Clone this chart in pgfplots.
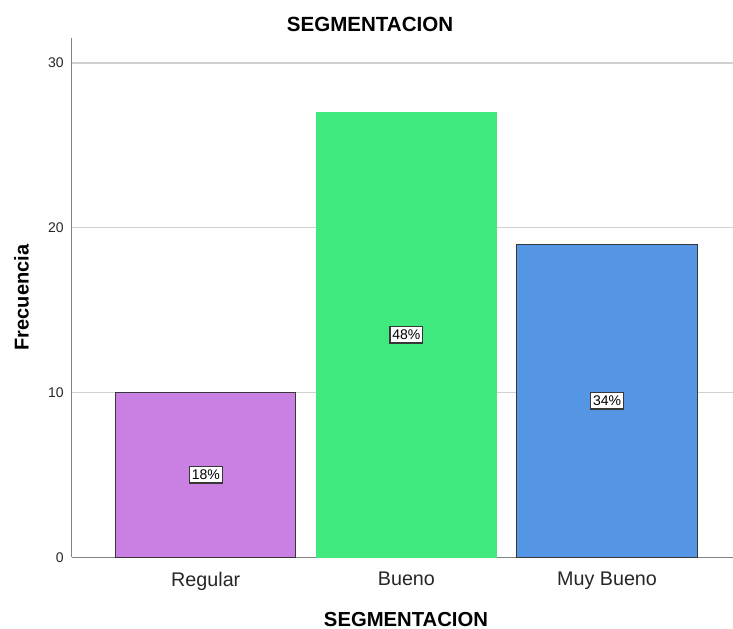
\documentclass[border=0pt]{standalone}
\usepackage{pgfplots}
\usepackage{pgfplotstable}
\pgfplotsset{compat=1.18}
\usepackage{fontspec}
\setmainfont{Liberation Sans}

\definecolor{cRegular}{RGB}{202,128,227}
\definecolor{cBueno}{RGB}{64,233,125}
\definecolor{cMuyBueno}{RGB}{84,149,228}
\definecolor{edgegray}{RGB}{55,55,55}
\definecolor{axisgray}{RGB}{130,130,130}
\definecolor{gridgray}{RGB}{208,208,208}

% frequencies per category
\pgfplotstableread{
x n
0 10
1 27
2 19
}\segdata

\begin{document}
\begin{tikzpicture}
\path[use as bounding box] (0,0) rectangle (549.75pt,471.75pt);
\begin{axis}[
  at={(53.8pt,53.8pt)}, anchor=south west,
  scale only axis, width=496pt, height=389.25pt,
  xmin=-0.668, xmax=2.628, ymin=0, ymax=31.5,
  axis x line*=bottom, axis y line*=left,
  axis line style={color=axisgray, line width=0.8pt},
  major tick length=0pt,
  xtick={0,1,2}, xticklabels={Regular,Bueno,Muy Bueno},
  ytick={0,10,20,30},
  ymajorgrids, grid style={color=gridgray, line width=1.1pt},
  /pgf/number format/assume math mode=true,
  yticklabel style={font=\fontsize{10.5}{12}\selectfont, xshift=-2.5pt, text=black!85},
  xticklabel style={font=\fontsize{14.8}{17}\selectfont, yshift=-7.5pt, text=black!85},
]
\addplot[ybar, bar width=0.898, bar shift=0pt, fill=cRegular, draw=edgegray, line width=0.75pt] coordinates {(0,10)};
\addplot[ybar, bar width=0.898, bar shift=0pt, fill=cBueno, draw=cBueno, line width=0.75pt] coordinates {(1,27)};
\addplot[ybar, bar width=0.898, bar shift=0pt, fill=cMuyBueno, draw=edgegray, line width=0.75pt] coordinates {(2,19)};
% percentage boxes at half bar height
\addplot[draw=none, mark=none,
  point meta={\thisrow{n}/56*100},
  nodes near coords={\pgfmathprintnumber[fixed,precision=0]{\pgfplotspointmeta}\%},
  every node near coord/.append style={anchor=center, fill=white, draw=edgegray,
    line width=1pt, inner xsep=1.8pt, inner ysep=2.4pt,
    font=\fontsize{10.5}{12}\selectfont},
] table[x=x, y expr=\thisrow{n}/2] {\segdata};
\end{axis}
\node[font=\bfseries\fontsize{15.4}{18}\selectfont] at (277.5pt,453.2pt) {SEGMENTACION};
\node[font=\bfseries\fontsize{15.2}{18}\selectfont] at (304.5pt,7.2pt) {SEGMENTACION};
\node[font=\bfseries\fontsize{15}{18}\selectfont, rotate=90] at (16.1pt,248.6pt) {Frecuencia};
\end{tikzpicture}
\end{document}
